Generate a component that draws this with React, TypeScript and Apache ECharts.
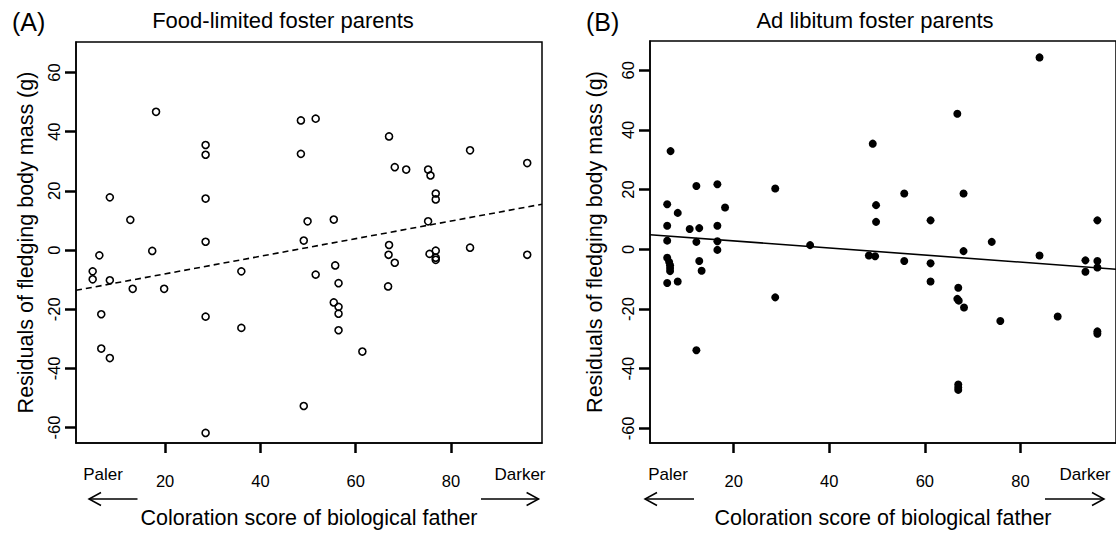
import React, { useEffect, useRef } from "react";
import * as echarts from "echarts";

// Panel A: food-limited foster parents (open circles)
const foodLimitedX = [
  4.8, 4.8, 6.2, 6.6, 6.6, 8.4, 8.4, 8.4, 12.7, 13.2, 17.3, 18.1, 19.8,
  28.5, 28.5, 28.5, 28.5, 28.5, 28.5, 36.0, 36.0, 48.5, 48.5, 49.1, 49.1,
  49.9, 51.6, 51.6, 55.4, 55.7, 56.4, 55.4, 56.4, 56.4, 56.4, 61.4, 67.0,
  67.0, 66.9, 66.8, 68.2, 68.2, 70.6, 75.2, 75.7, 75.2, 75.5, 76.8, 76.8,
  76.8, 76.8, 76.8, 84.0, 84.0, 96.0, 96.0,
];
const foodLimitedY = [
  -7.2, -9.9, -1.8, -21.7, -33.3, 17.8, -10.2, -36.5, 10.2, -13.1, -0.3, 46.7, -13.1,
  35.5, 32.2, 17.4, 2.8, -22.5, -61.8, -7.2, -26.3, 43.8, 32.5, 3.2, -52.7,
  9.7, 44.4, -8.3, 10.3, -5.2, -11.2, -17.7, -19.2, -21.5, -27.1, -34.3, 38.4,
  1.7, -1.6, -12.3, 28.0, -4.3, 27.2, 27.2, 25.2, 9.7, -1.3, 19.1, 17.1,
  -0.2, -2.6, -3.3, 33.7, 0.8, 29.4, -1.6,
];

// Panel B: ad libitum foster parents (filled circles)
const adLibitumX = [
  6.8, 6.1, 8.3, 6.1, 10.8, 12.8, 12.2, 16.6, 18.2, 16.6, 6.1, 12.2, 16.6, 16.6,
  28.7, 36.0, 49.1, 49.8, 49.8, 6.1, 6.5, 6.7, 6.7, 6.7, 6.1, 8.3, 12.8, 13.3,
  12.2, 28.7, 48.3, 49.6, 84.0, 66.8, 55.7, 68.1, 61.2, 96.1, 74.0, 68.1, 55.7,
  61.2, 61.2, 84.0, 93.6, 93.6, 96.1, 96.1, 67.0, 66.8, 67.1, 68.2, 75.8, 87.8,
  96.1, 96.1, 67.0, 67.0, 67.0,
];
const adLibitumY = [
  32.9, 15.1, 12.2, 7.9, 6.8, 7.1, 21.2, 21.8, 14.0, 7.9, 2.9, 2.5, 2.7, -0.2,
  20.4, 1.4, 35.4, 14.8, 9.2, -2.8, -4.2, -5.3, -6.3, -7.3, -11.3, -10.8, -3.9, -7.2,
  -33.8, -16.1, -2.1, -2.3, 64.3, 45.4, 18.7, 18.7, 9.7, 9.7, 2.5, -0.6, -3.9,
  -4.7, -10.8, -2.1, -3.7, -7.5, -3.9, -6.1, -12.9, -16.6, -17.2, -19.5, -24.0, -22.5,
  -27.5, -28.3, -45.3, -46.3, -47.1,
];

// Regression fits: [intercept, slope]
const fitA = [-14.0, 0.2975];
const fitB = [5.2, -0.1187];

const xTickValues = [20, 40, 60, 80];
const yTickValues = [-60, -40, -20, 0, 20, 40, 60];

const xRangeA = [1.3, 99.1];
const yRangeA = [-65.2, 70.3];
const xRangeB = [2.5, 100];
const yRangeB = [-64.9, 69.8];

const FONT = "'Liberation Sans', Arial, Helvetica, sans-serif";

function zip(xs: number[], ys: number[]) {
  return xs.map((x, i) => [x, ys[i]]);
}
function fitLine(fit: number[], range: number[]) {
  return range.map((x) => [x, fit[0] + fit[1] * x]);
}

function xAxisCfg(gridIndex: number, range: number[]) {
  return {
    type: "value",
    gridIndex,
    min: range[0],
    max: range[1],
    axisLine: { show: true, onZero: false, lineStyle: { color: "#000", width: 1.5 } },
    splitLine: { show: false },
    axisTick: {
      show: true,
      length: 10,
      customValues: xTickValues,
      lineStyle: { color: "#000", width: 2.5 },
    },
    axisLabel: {
      customValues: xTickValues,
      margin: 29,
      fontSize: 16.5,
      color: "#000",
      fontFamily: FONT,
    },
    name: "Coloration score of biological father",
    nameLocation: "middle",
    nameGap: 64,
    nameTextStyle: { fontSize: 21.5, color: "#000", fontFamily: FONT, verticalAlign: "top" },
  };
}

function yAxisCfg(gridIndex: number, range: number[], gap: number) {
  return {
    type: "value",
    gridIndex,
    min: range[0],
    max: range[1],
    axisLine: { show: true, onZero: false, lineStyle: { color: "#000", width: 1.5 } },
    splitLine: { show: false },
    axisTick: {
      show: true,
      length: 11,
      customValues: yTickValues,
      lineStyle: { color: "#000", width: 2.5 },
    },
    axisLabel: {
      customValues: yTickValues,
      rotate: 90,
      margin: 14,
      fontSize: 16.5,
      color: "#000",
      fontFamily: FONT,
    },
    name: "Residuals of fledging body mass (g)",
    nameLocation: "middle",
    nameRotate: 90,
    nameGap: gap,
    nameTextStyle: { fontSize: 21.5, color: "#000", fontFamily: FONT },
  };
}

function arrow(x1: number, x2: number, y: number) {
  const dir = x2 > x1 ? 1 : -1;
  return [
    {
      type: "line",
      shape: { x1, y1: y, x2, y2: y },
      style: { stroke: "#000", lineWidth: 1.5 },
    },
    {
      type: "polyline",
      shape: {
        points: [
          [x2 - dir * 12, y - 6.5],
          [x2, y],
          [x2 - dir * 12, y + 6.5],
        ],
      },
      style: { stroke: "#000", lineWidth: 1.5, fill: null },
    },
  ];
}

function label(text: string, x: number, y: number, size: number, align = "center") {
  return {
    type: "text",
    x,
    y,
    style: {
      text,
      fontSize: size,
      fontFamily: FONT,
      fill: "#000",
      align,
      verticalAlign: "middle",
    },
  };
}

export default function App() {
  const ref = useRef<HTMLDivElement>(null);

  useEffect(() => {
    if (!ref.current) return;
    const chart = echarts.init(ref.current, null, { renderer: "svg" });
    chart.setOption({
      animation: false,
      grid: [
        { show: true, borderColor: "#000", borderWidth: 1.5, left: 76, top: 42, width: 466, height: 407 },
        { show: true, borderColor: "#000", borderWidth: 1.5, left: 650, top: 41, width: 469, height: 404 },
      ],
      xAxis: [xAxisCfg(0, xRangeA), xAxisCfg(1, xRangeB)],
      yAxis: [yAxisCfg(0, yRangeA, 39), yAxisCfg(1, yRangeB, 44)],
      series: [
        {
          name: "Food-limited",
          type: "scatter",
          xAxisIndex: 0,
          yAxisIndex: 0,
          data: zip(foodLimitedX, foodLimitedY),
          symbol: "circle",
          symbolSize: 7,
          itemStyle: { color: "rgba(0,0,0,0)", borderColor: "#000", borderWidth: 1.6, opacity: 1 },
        },
        {
          name: "Fit A",
          type: "line",
          xAxisIndex: 0,
          yAxisIndex: 0,
          data: fitLine(fitA, xRangeA),
          showSymbol: false,
          lineStyle: { color: "#000", width: 1.6, type: [6, 4] },
        },
        {
          name: "Ad libitum",
          type: "scatter",
          xAxisIndex: 1,
          yAxisIndex: 1,
          data: zip(adLibitumX, adLibitumY),
          symbol: "circle",
          symbolSize: 8,
          itemStyle: { color: "#000", opacity: 1 },
        },
        {
          name: "Fit B",
          type: "line",
          xAxisIndex: 1,
          yAxisIndex: 1,
          data: fitLine(fitB, xRangeB),
          showSymbol: false,
          lineStyle: { color: "#000", width: 1.6 },
        },
      ],
      graphic: [
        label("(A)", 12, 22, 25, "left"),
        label("Food-limited foster parents", 283, 20, 22),
        label("(B)", 586, 22, 25, "left"),
        label("Ad libitum foster parents", 875, 20, 22),
        label("Paler", 103, 474, 17),
        label("Darker", 520, 474, 17),
        label("Paler", 668, 474, 17),
        label("Darker", 1085, 474, 17),
        ...arrow(137.5, 89, 499),
        ...arrow(481, 538.6, 499),
        ...arrow(694, 645, 499),
        ...arrow(1045, 1104, 499),
      ],
    });
    return () => chart.dispose();
  }, []);

  return (
    <div
      ref={ref}
      style={{ position: "absolute", left: 0, top: 0, width: 1116, height: 534 }}
    />
  );
}
